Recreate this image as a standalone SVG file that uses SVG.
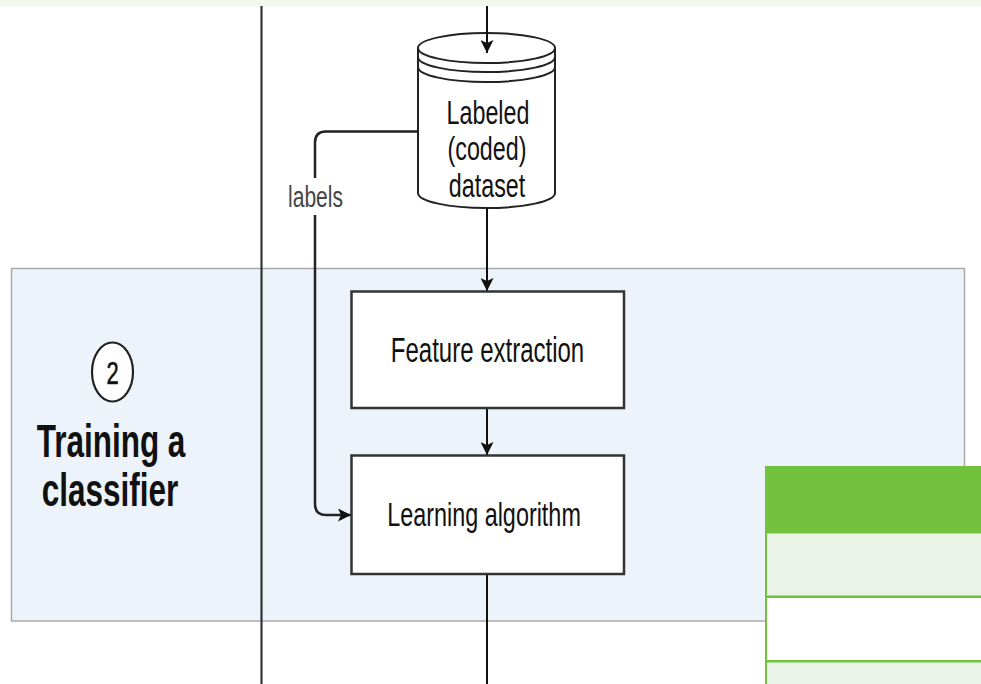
<svg xmlns="http://www.w3.org/2000/svg" width="981" height="684" viewBox="0 0 981 684">
<style>
.t{font-family:"Liberation Sans",Arial,sans-serif;fill:#111;text-anchor:middle}
.box{fill:#fff;stroke:#333;stroke-width:2.5}
.edge{fill:none;stroke:#111;stroke-width:2}
</style>
<defs>
<marker id="ah" viewBox="0 0 13 13" refX="13" refY="6.5" markerWidth="13" markerHeight="13" markerUnits="userSpaceOnUse" orient="auto">
<path d="M0,0 L13,6.5 L0,13 L3,6.5 Z" fill="#111"/>
</marker>
</defs>
<rect x="0" y="0" width="981" height="684" fill="#fff"/>
<rect x="0" y="0" width="981" height="6" fill="#f1f8ec"/>
<g id="panel">
<rect x="11.5" y="268.5" width="953" height="352.5" fill="#ecf3fa" stroke="#a9a9a9" stroke-width="1.5"/>
</g>
<g id="lane-line">
<line x1="261.5" y1="6" x2="261.5" y2="684" stroke="#333" stroke-width="2.2"/>
</g>
<g id="stage-label">
<ellipse cx="112.5" cy="372" rx="20.5" ry="29.5" fill="#fff" stroke="#222" stroke-width="2.2"/>
<text class="t" font-size="22" transform="translate(112.5,383.5) scale(1,1.43)" style="stroke:#111;stroke-width:0.4">2</text>
<text class="t" font-size="31.5" font-weight="bold" transform="translate(111,456.5) scale(1,1.47)">Training a</text>
<text class="t" font-size="31.5" font-weight="bold" transform="translate(110,505.5) scale(1,1.47)">classifier</text>
</g>
<g id="dataset">
<path d="M418,48 A68.5,15 0 0 1 555,48 V193 A68.5,15 0 0 1 418,193 Z" fill="#fff" stroke="#222" stroke-width="2"/>
<path d="M418,48 A68.5,15 0 0 0 555,48 M418,57 A68.5,15 0 0 0 555,57 M418,67 A68.5,15 0 0 0 555,67" fill="none" stroke="#222" stroke-width="2"/>
<text class="t" font-size="23.3" transform="translate(488,123.5) scale(1,1.43)">Labeled</text>
<text class="t" font-size="23.3" transform="translate(487,160) scale(1,1.43)">(coded)</text>
<text class="t" font-size="23.3" transform="translate(487,197) scale(1,1.43)">dataset</text>
</g>
<g id="connectors">
<line class="edge" x1="487" y1="6" x2="487" y2="53" marker-end="url(#ah)"/>
<line class="edge" x1="487" y1="208" x2="487" y2="291" marker-end="url(#ah)"/>
<line class="edge" x1="487" y1="408" x2="487" y2="455" marker-end="url(#ah)"/>
<line class="edge" x1="487" y1="574" x2="487" y2="684"/>
<path d="M418,131.5 H326 Q315,131.5 315,142.5 V504 Q315,515 326,515 H351" fill="none" stroke="#222" stroke-width="2.5" marker-end="url(#ah)"/>
<rect x="286" y="178" width="60" height="37" fill="#fff"/>
<text class="t" font-size="21" style="fill:#444" transform="translate(315.5,206.5) scale(1,1.43)">labels</text>
</g>
<g id="feature-extraction">
<rect class="box" x="351.5" y="291.5" width="272.5" height="116.5"/>
<text class="t" font-size="24" transform="translate(487.5,361.5) scale(1,1.43)">Feature extraction</text>
</g>
<g id="learning-algorithm">
<rect class="box" x="351.5" y="455.5" width="272.5" height="118.5"/>
<text class="t" font-size="23.4" transform="translate(484,526) scale(1,1.43)">Learning algorithm</text>
</g>
<g id="table">
<rect x="765" y="466" width="216" height="218" fill="#73c23d"/>
<rect x="767" y="533.5" width="214" height="62" fill="#e9f3e7"/>
<rect x="767" y="598" width="214" height="62" fill="#fff"/>
<rect x="767" y="662.5" width="214" height="22" fill="#e9f3e7"/>
</g>
</svg>
